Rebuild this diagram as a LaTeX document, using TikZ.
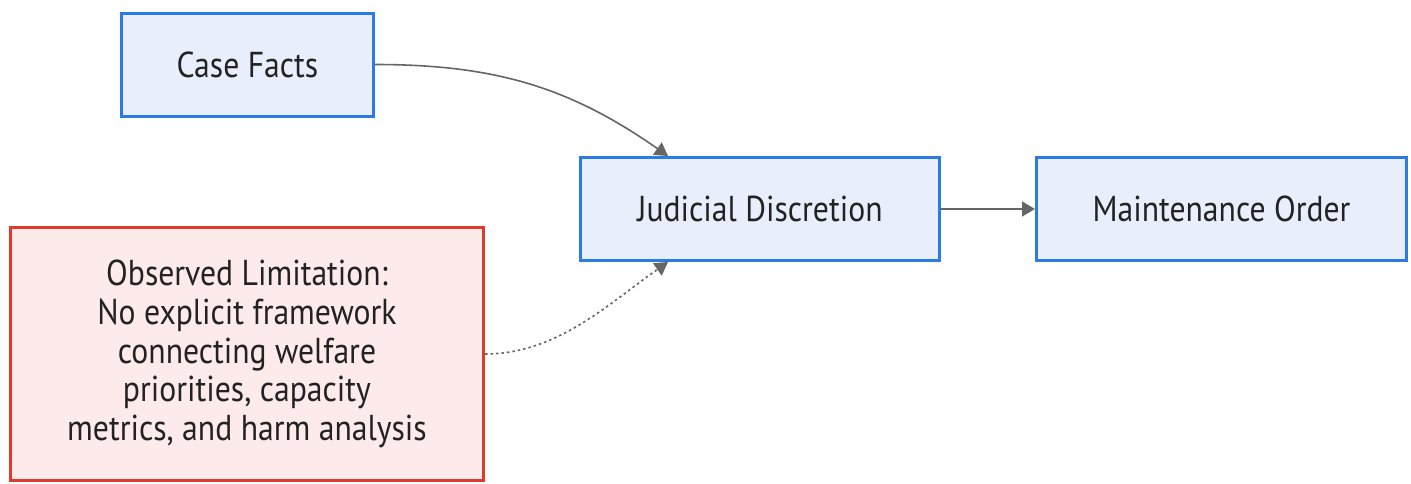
\documentclass[tikz,border=0pt]{standalone}
\usepackage{fontspec}
\setmainfont[FakeStretch=0.88]{PT Sans}
\usetikzlibrary{arrows.meta}
\definecolor{bluestroke}{HTML}{2C7BE5}
\definecolor{bluefill}{HTML}{E8EEFB}
\definecolor{redstroke}{HTML}{E0392E}
\definecolor{redfill}{HTML}{FDEAEA}
\definecolor{linkgrey}{HTML}{666666}
\definecolor{txt}{HTML}{222222}
\tikzset{
  bluebox/.style={draw=bluestroke, fill=bluefill, line width=3pt, inner sep=0pt, align=center,
    text=txt, font=\fontsize{36}{38.75}\selectfont},
  redbox/.style={draw=redstroke, fill=redfill, line width=3pt, inner sep=0pt, align=center,
    text=txt, font=\fontsize{36}{38.75}\selectfont},
  link/.style={draw=linkgrey, line width=1.6pt, -{Triangle[width=15pt,length=13pt]}},
  dotlink/.style={link, dash pattern=on 2.5pt off 3pt}
}
\begin{document}
\begin{tikzpicture}[x=1pt,y=-1pt]
\useasboundingbox[fill=white] (0,0) rectangle (1411,483);
\node[bluebox, minimum width=252pt, minimum height=103pt] (cf) at (247.5,64.5) {Case Facts};
\node[bluebox, minimum width=359pt, minimum height=103pt] (jd) at (760,209) {Judicial Discretion};
\node[bluebox, minimum width=370pt, minimum height=103pt] (mo) at (1221.5,209) {Maintenance Order};
\node[redbox, minimum width=473pt, minimum height=253pt] (ol) at (247,354) {Observed Limitation:\\No explicit framework\\connecting welfare\\priorities, capacity\\metrics, and harm analysis};
\coordinate (jdtop) at ([xshift=-92pt]jd.north);
\coordinate (jdbot) at ([xshift=-92pt]jd.south);
\draw[link] (cf.east) to[out=0, in=145, looseness=1.0] (jdtop);
\draw[link] (jd.east) -- (mo.west);
\draw[dotlink] (ol.east) to[out=0, in=215, looseness=0.9] (jdbot);
\end{tikzpicture}
\end{document}
